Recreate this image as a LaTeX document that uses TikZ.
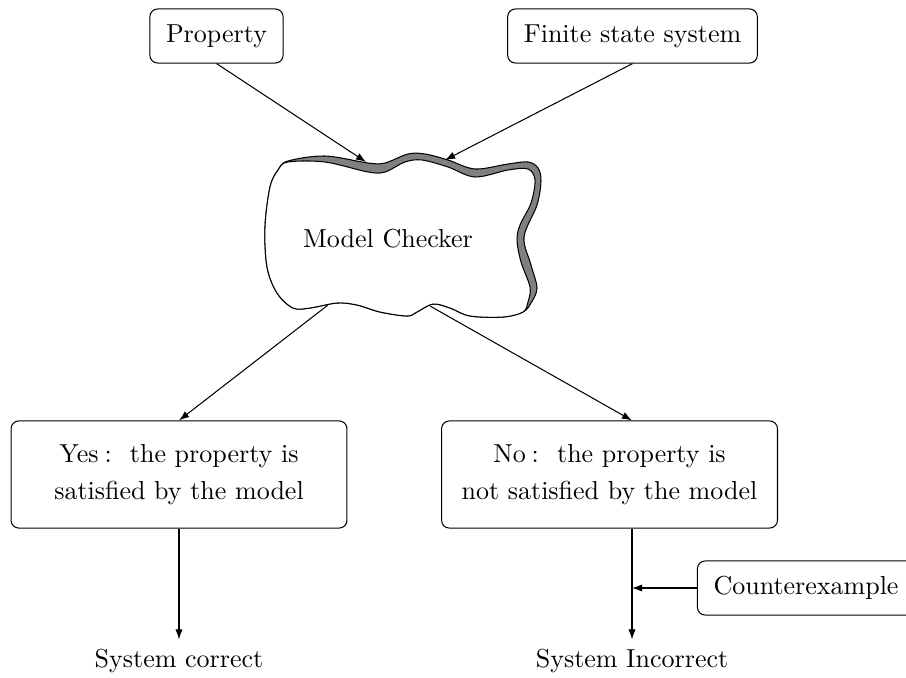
\documentclass[tikz,border=0pt]{standalone}
\usetikzlibrary{arrows.meta}
\begin{document}
\begin{tikzpicture}[x=0.3846pt,y=-0.3846pt,
  box/.style={draw,rounded corners=3pt,inner xsep=6.2pt,minimum height=20.8pt},
  bigbox/.style={draw,rounded corners=3pt,minimum width=129.2pt,minimum height=41.2pt,align=center},
  arr/.style={-{Latex[length=3.9pt,width=2.8pt]},line width=0.4pt},
  cloudline/.style={line width=0.4pt,line join=round}]
\useasboundingbox (0,0) rectangle (906,677);

% cloud shadow
\draw[cloudline,fill=gray] plot[smooth cycle,tension=0.55] coordinates {
 (288,161) (325,156) (368,163) (385,163) (408,154) (425,154) (448,160) (475,169)
 (508,164) (528,162) (538,168) (541,181) (537,205) (524,237) (531,265) (537,288)
 (531,303) (523,312) (503,317) (470,316) (450,308) (433,304) (417,312) (407,316)
 (380,312) (357,305) (337,303) (310,308) (293,308) (277,293) (267,267) (265,227)
 (270,187) (278,170)};
% cloud body
\draw[cloudline,fill=white] plot[smooth cycle,tension=0.55] coordinates {
 (288,162) (325,162) (368,172) (385,172) (405,162) (422,160) (448,167) (475,177)
 (508,170) (528,169) (535,180) (531,203) (520,225) (517,240) (521,262) (530,287)
 (528,302) (523,312) (503,317) (470,316) (450,308) (433,304) (417,312) (407,316)
 (380,312) (357,305) (337,303) (310,308) (293,308) (277,293) (267,267) (265,227)
 (270,187) (278,170)};
\node[anchor=base] (mc) at (388,247) {Model Checker};

\coordinate (cP) at (366,162);
\coordinate (cF) at (445,160);
\coordinate (cL) at (328,305);
\coordinate (cR) at (430,306);

\node[box] (prop) at (216.5,36) {Property};
\node[box] (fss) at (632.5,36) {Finite state system};
\node[bigbox] (yes) at (179,474.5) {Yes\kern2.3pt:\kern7pt the property is\\[2.2pt] satisfied by the model};
\node[bigbox] (no) at (609.5,474.5) {No\kern2.3pt:\kern7pt the property is\\[2.2pt] not satisfied by the model};
\node[box] (cex) at (806,588) {Counterexample};
\node[anchor=base] (sc) at (179,667) {System correct};
\node[anchor=base] (si) at (632,667) {System Incorrect};

\draw[arr] (prop.south) -- (cP);
\draw[arr] (fss.south) -- (cF);
\draw[arr] (cL) -- (yes.north);
\draw[arr] (cR) -- (no.north -| si.north);
\draw[arr] (yes.south) -- (sc.north);
\draw[arr] (no.south -| si.north) -- (si.north);
\draw[arr] (cex.west) -- (cex.west -| si.north);
\end{tikzpicture}
\end{document}
